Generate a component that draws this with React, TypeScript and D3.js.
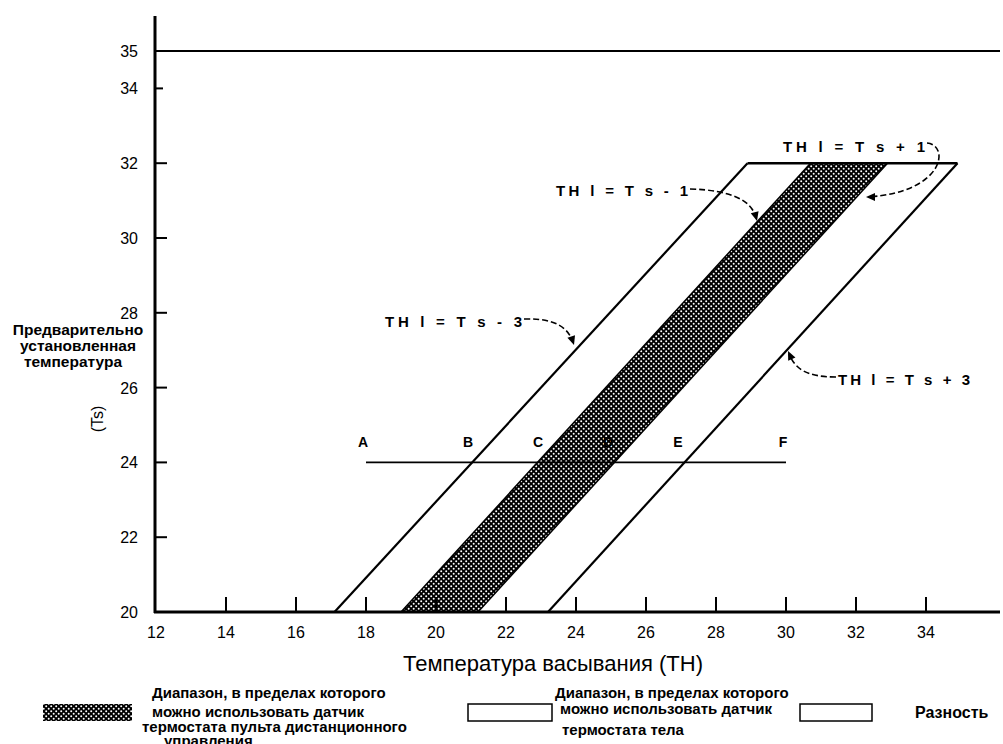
import React from "react";
import * as d3 from "d3";

// ---- data ----
const yTickValues = [20, 22, 24, 26, 28, 30, 32, 34, 35];
const xTickValues = [12, 14, 16, 18, 20, 22, 24, 26, 28, 30, 32, 34];
const tsRange = [20, 32];
// boundary lines TH as read at Ts = 20 and Ts = 32
const lineMinus3 = [17.1, 28.9];
const linePlus3 = [23.2, 34.9];
const bandLeft = [19.0, 30.7];
const bandRight = [21.2, 32.9];
const tsTop = 35;
const tsRef = 24;
const refRange = [18, 30];
const pointLabels = ["A", "B", "C", "D", "E", "F"];
const pointTH = [18, 21, 23, 25, 27, 30];

const FONT = "'Liberation Sans', Arial, sans-serif";

export default function App() {
  const x = d3.scaleLinear().domain([12, 36]).range([156, 996]);
  const y = d3.scaleLinear().domain([20, 35]).range([612, 51]);
  const line = d3
    .line<[number, number]>()
    .x((d) => x(d[0]))
    .y((d) => y(d[1]));

  const seg = (th: number[]) =>
    line([
      [th[0], tsRange[0]],
      [th[1], tsRange[1]],
    ]) as string;

  const bandPath =
    line([
      [bandLeft[0], tsRange[0]],
      [bandLeft[1], tsRange[1]],
      [bandRight[1], tsRange[1]],
      [bandRight[0], tsRange[0]],
    ]) + "Z";

  const labelStyle: React.CSSProperties = {
    fontFamily: FONT,
    fontWeight: "bold",
    fontSize: 15,
  };

  const annotations = [
    { text: "TH l = T s + 1", x: 783, y: 147, w: 142 },
    { text: "TH l = T s - 1", x: 556, y: 191, w: 132 },
    { text: "TH l = T s - 3", x: 385, y: 322, w: 137 },
    { text: "TH l = T s + 3", x: 838, y: 380, w: 132 },
  ];

  const arrows = [
    { d: "M927,143 C950,145 945,192 868,197", tip: [866, 197], ang: 180 },
    { d: "M690,189 C730,190 752,200 756,218", tip: [757, 221], ang: 75 },
    { d: "M524,319 C556,318 568,328 573,342", tip: [574, 345], ang: 72 },
    { d: "M836,377 C805,377 795,368 789,354", tip: [788, 351], ang: -115 },
  ];

  const legendText: React.CSSProperties = {
    fontFamily: FONT,
    fontSize: 15,
    fontWeight: "bold",
  };

  return (
    <svg width={1003} height={744} style={{ display: "block", position: "absolute", left: 0, top: 0 }}>
      <defs>
        <pattern id="hatch" width={5} height={5} patternUnits="userSpaceOnUse">
          <rect width={5} height={5} fill="#000" />
          <circle cx={1.2} cy={1.2} r={1} fill="#fff" />
          <circle cx={3.7} cy={3.7} r={1} fill="#fff" />
        </pattern>
      </defs>
      <rect width={1003} height={744} fill="#fff" />

      {/* band */}
      <path d={bandPath} fill="url(#hatch)" stroke="#000" strokeWidth={1.5} />

      {/* parallelogram lines */}
      <path d={seg(lineMinus3)} stroke="#000" strokeWidth={2.2} fill="none" />
      <path d={seg(linePlus3)} stroke="#000" strokeWidth={2.2} fill="none" />
      <line x1={x(lineMinus3[1])} x2={x(linePlus3[1])} y1={y(tsRange[1])} y2={y(tsRange[1])} stroke="#000" strokeWidth={2.5} />

      {/* Ts=35 line */}
      <line x1={x(12)} x2={1000} y1={y(tsTop)} y2={y(tsTop)} stroke="#000" strokeWidth={2} />

      {/* reference line at Ts=24 */}
      <line x1={x(refRange[0])} x2={x(refRange[1])} y1={y(tsRef)} y2={y(tsRef)} stroke="#000" strokeWidth={1.8} />
      {pointLabels.map((l, i) => (
        <text key={l} x={x(pointTH[i]) - 3} y={y(tsRef) - 15} textAnchor="middle" style={{ fontFamily: FONT, fontSize: 14, fontWeight: "bold" }}>
          {l}
        </text>
      ))}

      {/* axes */}
      <line x1={155} x2={155} y1={16} y2={y(20) + 1} stroke="#000" strokeWidth={3} />
      <line x1={154} x2={1000} y1={y(20)} y2={y(20)} stroke="#000" strokeWidth={3} />
      {yTickValues.map((v) => (
        <g key={"y" + v}>
          {v !== 20 && v !== 35 && (
            <line x1={155} x2={v === 34 ? 163 : 167} y1={y(v)} y2={y(v)} stroke="#000" strokeWidth={2} />
          )}
          <text x={138} y={y(v) + 6} textAnchor="end" style={{ fontFamily: FONT, fontSize: 16 }}>
            {v}
          </text>
        </g>
      ))}
      {xTickValues.map((v) => (
        <g key={"x" + v}>
          {v !== 12 && <line x1={x(v)} x2={x(v)} y1={y(20)} y2={y(20) - 15} stroke="#000" strokeWidth={2} />}
          <text x={x(v)} y={y(20) + 26} textAnchor="middle" style={{ fontFamily: FONT, fontSize: 16 }}>
            {v}
          </text>
        </g>
      ))}

      {/* axis titles */}
      <text x={553} y={671} textAnchor="middle" style={{ fontFamily: FONT, fontSize: 22 }}>
        Температура васывания (TH)
      </text>
      <g style={{ fontFamily: FONT, fontSize: 15.5, fontWeight: "bold" }} textAnchor="middle">
        <text x={78} y={335}>Предварительно</text>
        <text x={78} y={351}>установленная</text>
        <text x={73} y={367}>температура</text>
      </g>
      <text transform="translate(103,419) rotate(-90)" textAnchor="middle" style={{ fontFamily: FONT, fontSize: 16 }}>
        (Ts)
      </text>

      {/* annotations */}
      {annotations.map((a) => (
        <text key={a.text} x={a.x} y={a.y + 5} textLength={a.w} lengthAdjust="spacing" style={labelStyle}>
          {a.text}
        </text>
      ))}
      {arrows.map((a, i) => (
        <g key={i}>
          <path d={a.d} fill="none" stroke="#000" strokeWidth={1.6} strokeDasharray="6,3" />
          <path
            d="M0,0 L-9,-4 L-9,4 Z"
            transform={`translate(${a.tip[0]},${a.tip[1]}) rotate(${a.ang})`}
            fill="#000"
          />
        </g>
      ))}

      {/* legend */}
      <rect x={43} y={704} width={89} height={17} fill="url(#hatch)" />
      <g style={legendText}>
        <text x={152} y={698}>Диапазон, в пределах которого</text>
        <text x={152} y={717}>можно использовать датчик</text>
        <text x={142} y={732}>термостата пульта дистанционного</text>
        <text x={164} y={746}>управления</text>
      </g>
      <rect x={468} y={704} width={84} height={17} fill="#fff" stroke="#000" strokeWidth={1.5} />
      <g style={legendText}>
        <text x={555} y={698}>Диапазон, в пределах которого</text>
        <text x={560} y={714}>можно использовать датчик</text>
        <text x={562} y={735}>термостата тела</text>
      </g>
      <rect x={800} y={704} width={72} height={17} fill="#fff" stroke="#000" strokeWidth={1.5} />
      <text x={915} y={718} style={{ ...legendText, fontSize: 16 }}>
        Разность
      </text>
    </svg>
  );
}
